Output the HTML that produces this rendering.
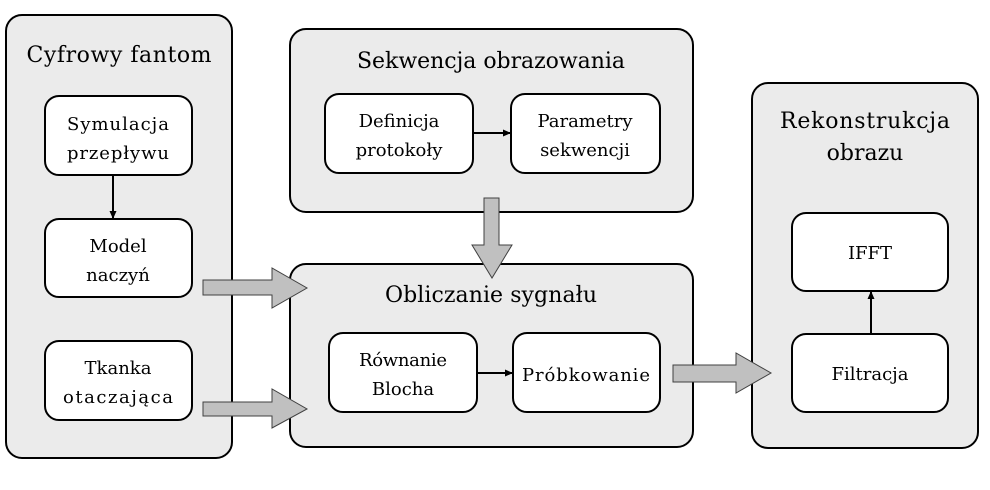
<!DOCTYPE html>
<html><head><meta charset="utf-8"><style>body{margin:0;background:#fff}svg{display:block}svg text{font-family:"DejaVu Serif",serif;fill:#000;text-anchor:middle}</style></head>
<body>
<svg width="990" height="490" viewBox="0 0 990 490">
<defs><marker id="a" markerWidth="8" markerHeight="8" refX="7" refY="4" orient="auto" markerUnits="userSpaceOnUse"><path d="M0,0.5 L8,4 L0,7.5z" fill="#000"/></marker></defs>
<g stroke="#000" stroke-width="2" fill="#ebebeb">
<rect x="6" y="15" width="226" height="443" rx="16"/>
<rect x="290" y="29" width="403" height="183" rx="16"/>
<rect x="290" y="264" width="403" height="183" rx="16"/>
<rect x="752" y="83" width="226" height="365" rx="16"/>
</g>
<g stroke="#000" stroke-width="2" fill="#fff">
<rect x="45" y="96" width="147" height="79" rx="14"/>
<rect x="45" y="219" width="147" height="78" rx="14"/>
<rect x="45" y="341" width="147" height="79" rx="14"/>
<rect x="325" y="94" width="148" height="79" rx="14"/>
<rect x="511" y="94" width="149" height="79" rx="14"/>
<rect x="329" y="333" width="148" height="79" rx="14"/>
<rect x="513" y="333" width="147" height="79" rx="14"/>
<rect x="792" y="213" width="156" height="78" rx="14"/>
<rect x="792" y="334" width="156" height="78" rx="14"/>
</g>
<g stroke="#000" stroke-width="2" fill="none">
<line x1="113" y1="175" x2="113" y2="218" marker-end="url(#a)"/>
<line x1="473" y1="133" x2="510" y2="133" marker-end="url(#a)"/>
<line x1="477" y1="373" x2="512" y2="373" marker-end="url(#a)"/>
<line x1="871" y1="334" x2="871" y2="292" marker-end="url(#a)"/>
</g>
<g fill="#c0c0c0" stroke="#404040" stroke-width="1">
<path d="M484,198 H499 V245 H512 L492,278 L472,245 H484 Z"/>
<path d="M203,280 H272 V268 L307,288 L272,308 V295 H203 Z"/>
<path d="M203,402 H272 V389 L307,409 L272,428 V416 H203 Z"/>
<path d="M673,365 H736 V353 L771,373 L736,393 V382 H673 Z"/>
</g>
<g font-size="22">
<text x="119" y="62" textLength="185">Cyfrowy fantom</text>
<text x="491" y="68" textLength="268">Sekwencja obrazowania</text>
<text x="491" y="302" textLength="212">Obliczanie sygnału</text>
<text x="865" y="128" textLength="170">Rekonstrukcja</text>
<text x="865" y="160">obrazu</text>
</g>
<g font-size="18">
<text x="118" y="130" textLength="102">Symulacja</text><text x="118" y="159" textLength="102">przepływu</text>
<text x="118" y="252">Model</text><text x="118" y="281">naczyń</text>
<text x="118" y="374">Tkanka</text><text x="118" y="403" textLength="110">otaczająca</text>
<text x="399" y="127">Definicja</text><text x="399" y="156">protokoły</text>
<text x="585" y="127">Parametry</text><text x="585" y="156">sekwencji</text>
<text x="403" y="366" textLength="88">Równanie</text><text x="403" y="395">Blocha</text>
<text x="586" y="381" textLength="128">Próbkowanie</text>
<text x="870" y="259">IFFT</text>
<text x="870" y="380">Filtracja</text>
</g>
</svg>
</body></html>
